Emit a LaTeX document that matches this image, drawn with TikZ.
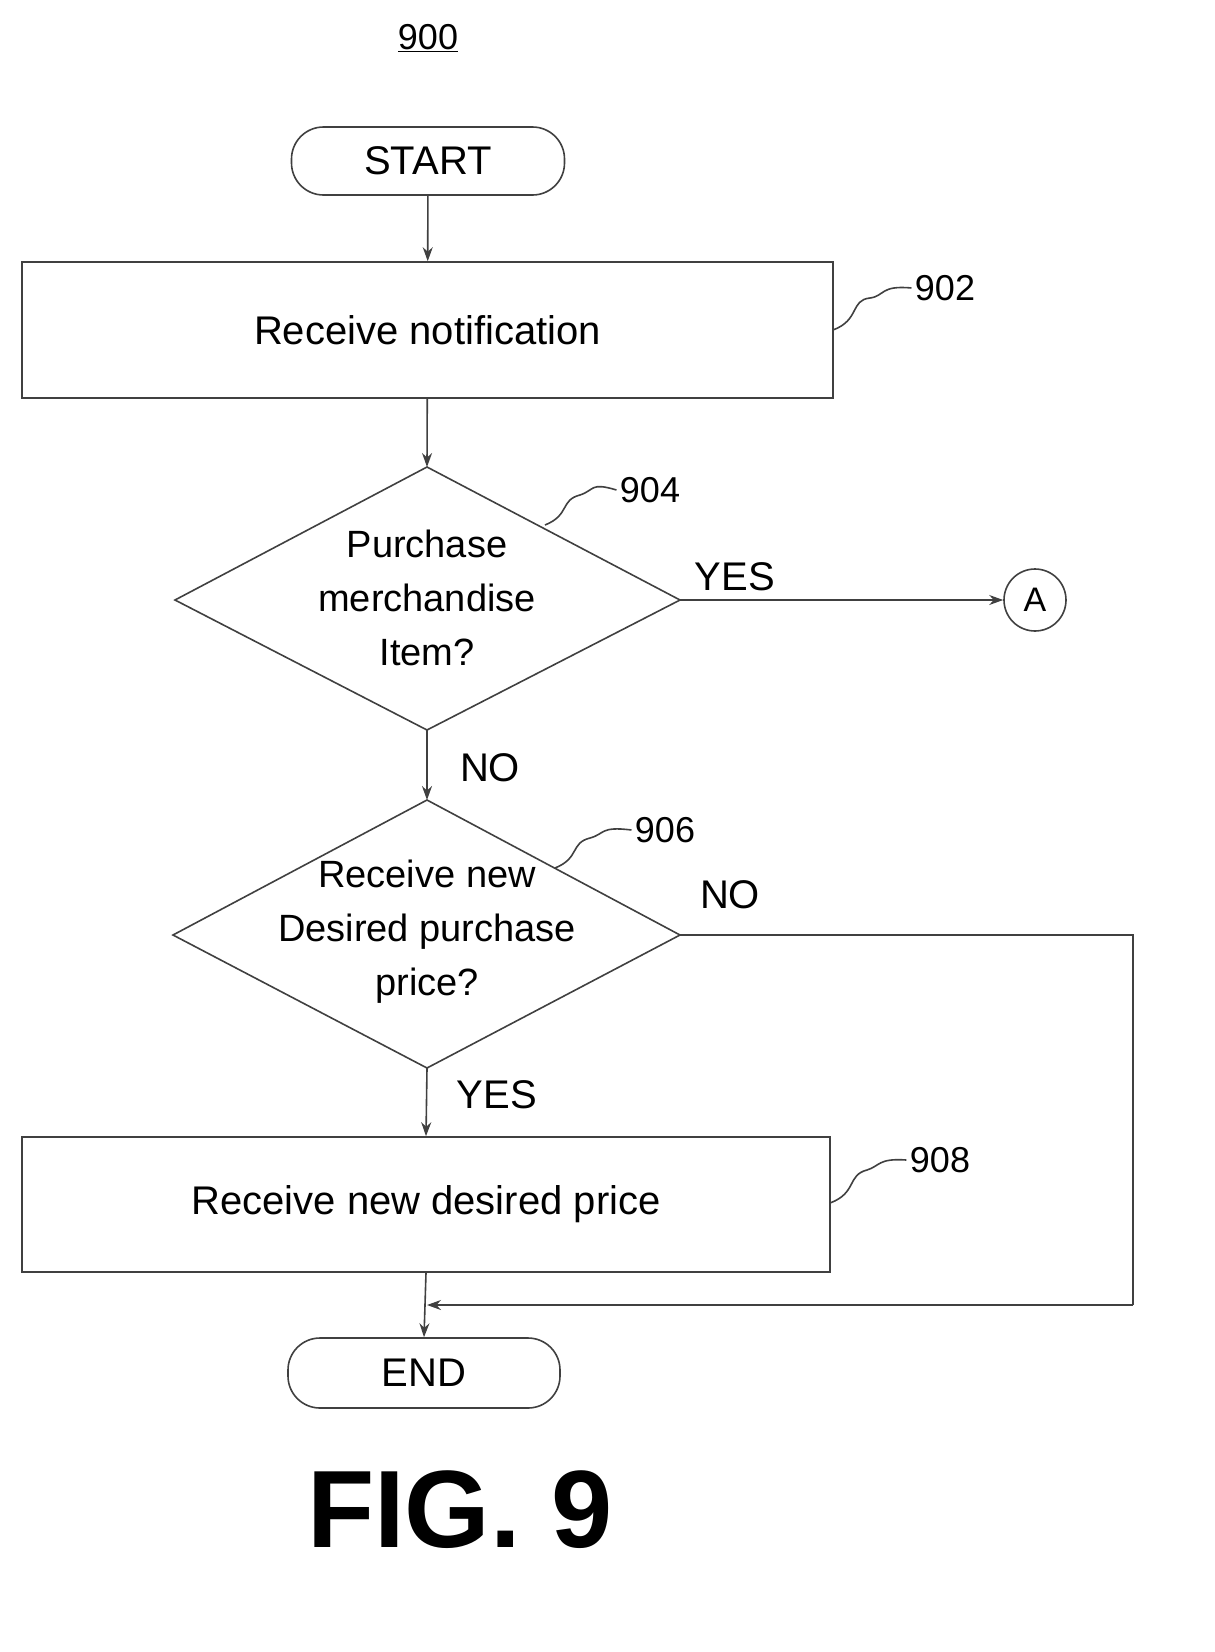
\documentclass[tikz,border=0pt]{standalone}
\usepackage{fontspec}
\setmainfont{Liberation Sans}
\usetikzlibrary{arrows.meta,shapes.geometric}
\begin{document}
\begin{tikzpicture}[x=1pt,y=-1pt,
  every node/.style={font=\fontsize{40}{50}\selectfont},
  ln/.style={line width=1.6pt,draw=black!75},
  arr/.style={ln,-{Stealth[length=14pt,width=10pt]}},
  term/.style={ln,draw,rounded corners=32pt,minimum height=68pt},
  dtext/.style={align=center,font=\fontsize{38}{54}\selectfont},
  lbl/.style={font=\fontsize{36}{44}\selectfont}]
\useasboundingbox (0,0) rectangle (1215,1652);
\node[lbl] (t900) at (428,38) {\underline{900}};
\node[term,minimum width=273pt] (start) at (428,161) {START};
\node[ln,draw,minimum width=811pt,minimum height=136pt] (b902) at (427.5,330) {Receive notification};
% diamond 904
\coordinate (d904n) at (427,467); \coordinate (d904w) at (175,600);
\coordinate (d904e) at (680,600); \coordinate (d904s) at (427,730);
\draw[ln] (d904n) -- (d904e) -- (d904s) -- (d904w) -- cycle;
\node[dtext] (t904) at (427,598) {Purchase\\merchandise\\Item?};
% diamond 906
\coordinate (d906n) at (427,800); \coordinate (d906w) at (173,935);
\coordinate (d906e) at (680,935); \coordinate (d906s) at (427,1068);
\draw[ln] (d906n) -- (d906e) -- (d906s) -- (d906w) -- cycle;
\node[dtext] (t906) at (427,932) {Receive new\\Desired purchase\\price?};
\node[ln,draw,minimum width=808pt,minimum height=135pt] (b908) at (426,1204.5) {Receive new desired price};
\node[term,minimum width=272pt,minimum height=70pt] (end) at (424,1373) {END};
\node[ln,draw,circle,minimum size=62pt,inner sep=0pt,font=\fontsize{34}{40}\selectfont] (A) at (1035,600) {A};
\node[lbl] (l902) at (945,288) {902};
\node[lbl] (l904) at (650,490) {904};
\node[lbl] (l906) at (665,830) {906};
\node[lbl] (l908) at (940,1160) {908};
\node (yes1) at (735,577) {YES};
\node (no1) at (490,768) {NO};
\node (no2) at (730,895) {NO};
\node (yes2) at (497,1095) {YES};
\node[font=\bfseries\fontsize{110}{120}\selectfont] (fig) at (460,1510) {FIG. 9};
\coordinate (c1) at (1133,935);
\coordinate (c2) at (1133,1305);
\coordinate (c3) at (427,1305);
\draw[arr] (start) -- (b902);
\draw[arr] (b902) -- (d904n);
\draw[arr] (d904e) -- (A);
\draw[arr] (d904s) -- (d906n);
\draw[arr] (d906s) -- (b908.north);
\draw[arr] (b908.south) -- (end.north);
\draw[ln] (d906e) -- (c1) -- (c2);
\draw[arr] (c2) -- (c3);
\draw[ln] (833,330) .. controls (860,320) and (850,300) .. (870,298) .. controls (885,296) and (880,285) .. (l902.west);
\draw[ln] (545,525) .. controls (570,515) and (560,500) .. (580,495) .. controls (595,490) and (590,482) .. (l904.west);
\draw[ln] (555,868) .. controls (580,858) and (570,843) .. (590,838) .. controls (605,834) and (600,826) .. (l906.west);
\draw[ln] (830,1203) .. controls (857,1193) and (847,1175) .. (867,1170) .. controls (880,1166) and (878,1158) .. (l908.west);
\end{tikzpicture}
\end{document}
